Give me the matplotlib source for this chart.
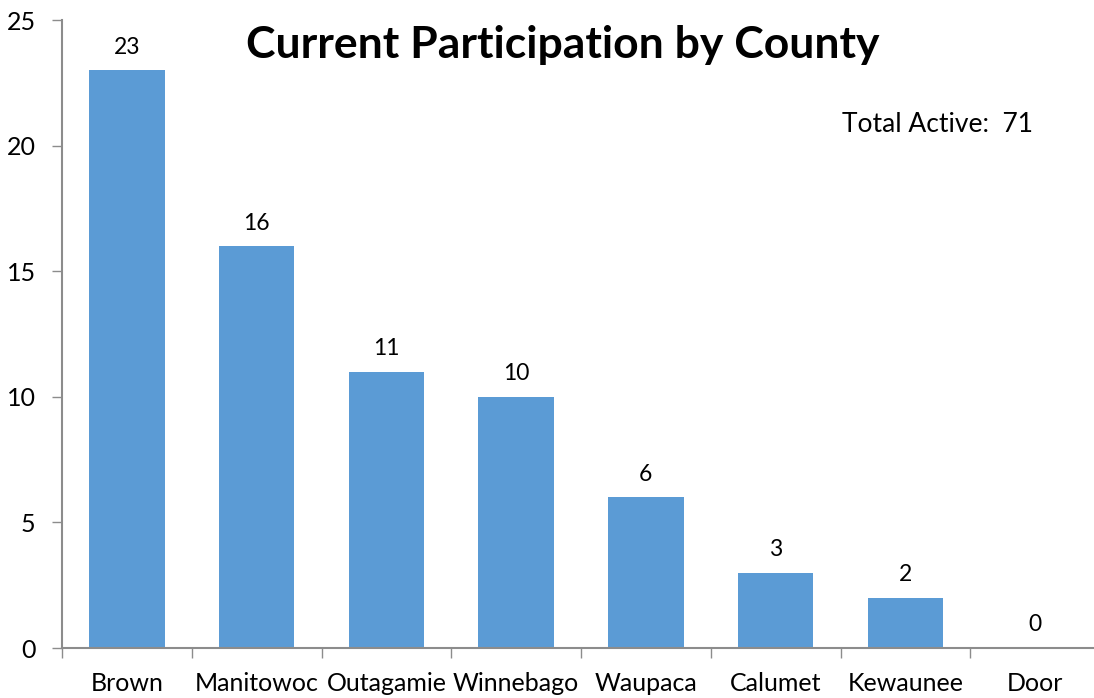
import matplotlib
matplotlib.use("Agg")
import matplotlib.pyplot as plt
import numpy as np

counties = ["Brown", "Manitowoc", "Outagamie", "Winnebago", "Waupaca", "Calumet", "Kewaunee", "Door"]
participants = [23, 16, 11, 10, 6, 3, 2, 0]
y_ticks = [0, 5, 10, 15, 20, 25]
title = "Current Participation by County"
total_text = "Total Active:  71"

plt.rcParams['font.family'] = ['Lato', 'DejaVu Sans']

W, H = 1094, 698
fig = plt.figure(figsize=(W / 100, H / 100), dpi=100)
left_px, right_px, top_px, bottom_px = 62, 1100, 20, 648
ax = fig.add_axes([left_px / W, 1 - bottom_px / H, (right_px - left_px) / W, (bottom_px - top_px) / H])

x = np.arange(len(counties))
ax.bar(x, participants, width=0.58, color="#5B9BD5", zorder=2)
for xi, v in zip(x, participants):
    ax.text(xi, v + 0.5, str(v), ha="center", va="bottom", fontsize=16.5, color="black")

ax.set_xlim(-0.5, len(counties) - 0.5)
ax.set_ylim(0, 25)
ax.set_yticks(y_ticks)
ax.set_yticklabels([str(t) for t in y_ticks], fontsize=18)
ax.set_xticks(x)
ax.set_xticklabels(counties, fontsize=18)
ax.tick_params(axis="x", length=0, pad=17)
ax.set_xticks(np.arange(-0.5, len(counties), 1.0), minor=True)
ax.tick_params(axis="x", which="minor", length=7, color="#8c8c8c", width=1)
ax.tick_params(axis="y", length=7, color="#8c8c8c", width=1, pad=12)

for s in ["top", "right"]:
    ax.spines[s].set_visible(False)
for s in ["left", "bottom"]:
    ax.spines[s].set_color("#8c8c8c")
    ax.spines[s].set_linewidth(1.5)

fig.text(563 / W, 1 - 45 / H, title, ha="center", va="center", fontsize=32, fontweight="bold")
fig.text(842 / W, 1 - 125 / H, total_text, ha="left", va="center", fontsize=19)

fig.savefig("out.png", dpi=100)
